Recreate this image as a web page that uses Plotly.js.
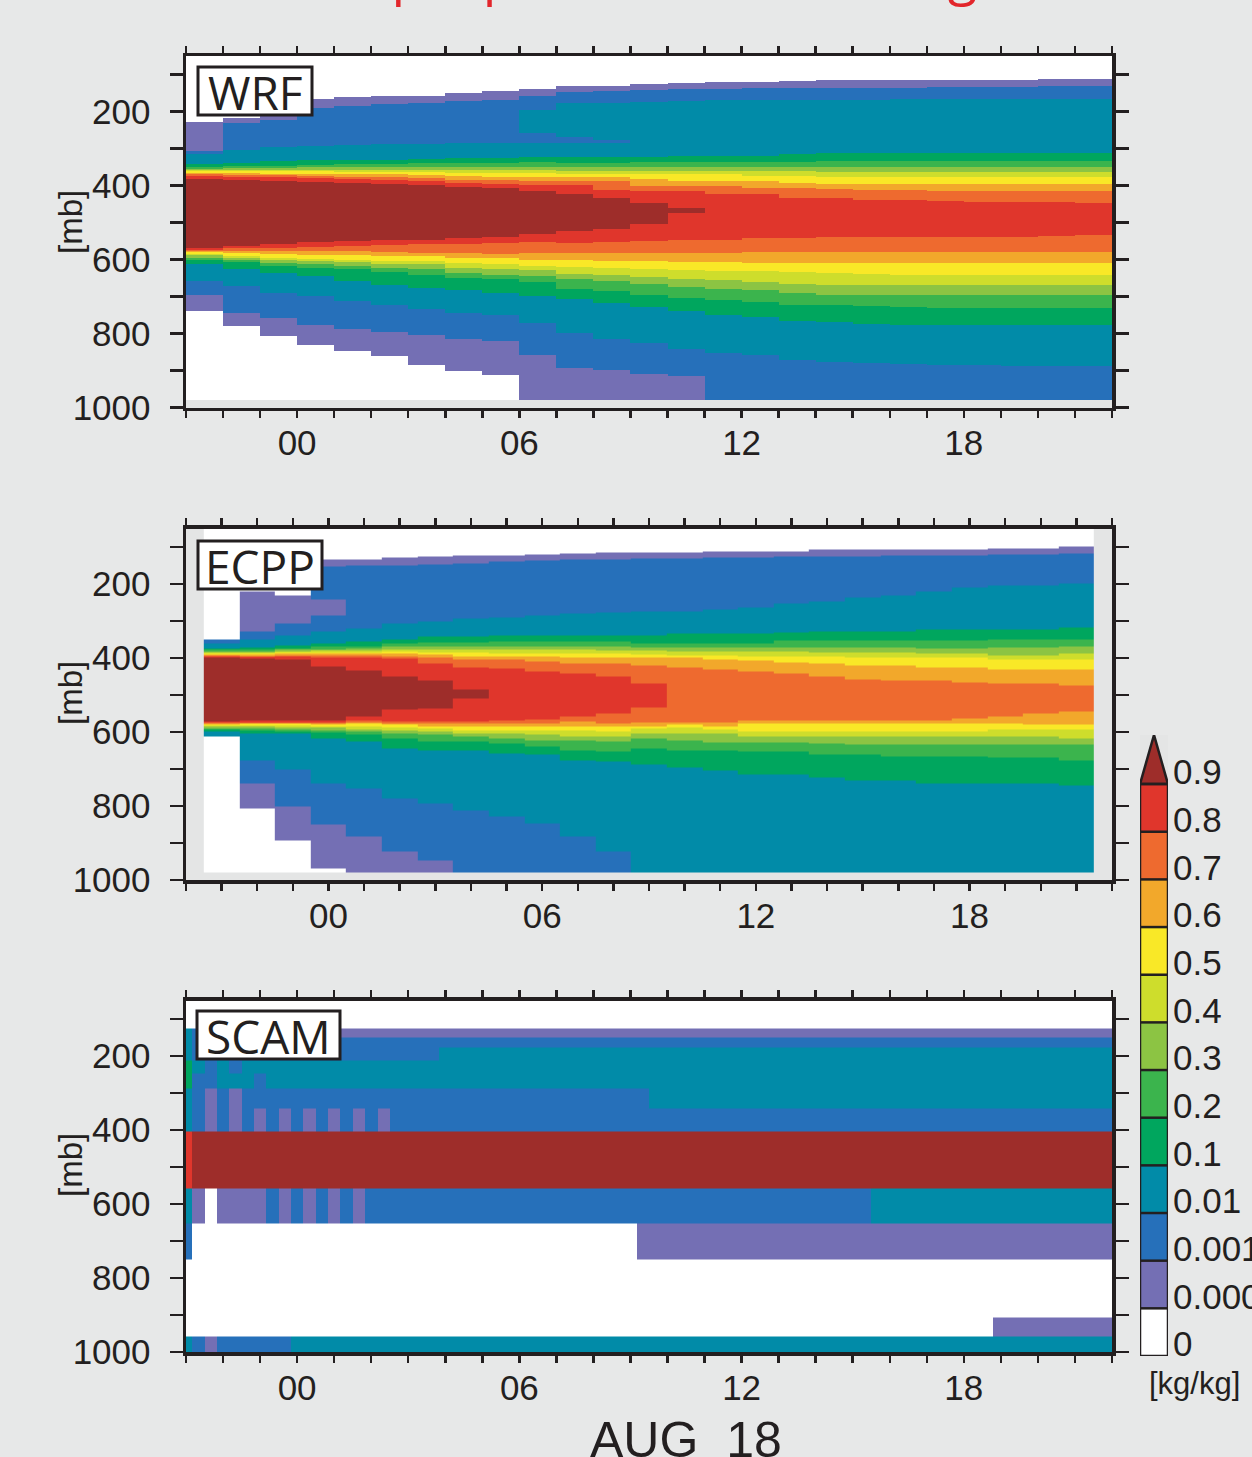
<!DOCTYPE html>
<html><head><meta charset="utf-8">
<script src="https://cdn.plot.ly/plotly-3.0.1.min.js"></script>
<style>html,body{margin:0;padding:0;background:#e7e8e8;} #chart{width:1252px;height:1457px;}</style>
</head><body><div id="chart"></div>
<script>
// ---------- colour classes (colorbar) ----------
const levelLabels = ['0','0.0001','0.001','0.01','0.1','0.2','0.3','0.4','0.5','0.6','0.7','0.8','0.9'];
const levelColors = ['#ffffff','#746fb4','#2670ba','#018ba8','#00a65e','#3bb44d','#8cc443',
                     '#cedd2c','#f9e827','#f2a82b','#ee6a2f','#e0362c','#9e2d2a'];
const panelNames = ['WRF','ECPP','SCAM'];
const hourTicks = [0, 6, 12, 18];
const hourTickText = ['00','06','12','18'];
const pressureTicks = [200, 400, 600, 800, 1000];
const timeLabel = 'AUG\u00a0 18';
const unitLabel = '[kg/kg]';
const pressureLabel = '[mb]';
const titleText = 'Mid-troposphere tracer mixing ratio';

// ---------- WRF: band edges [mb] per hourly column ----------
const wrfHours = [-2.5,-1.5,-0.5,0.5,1.5,2.5,3.5,4.5,5.5,6.5,7.5,8.5,9.5,10.5,11.5,12.5,13.5,14.5,15.5,16.5,17.5,18.5,19.5,20.5,21.5];
// upper edge of the region >= class k (k = 1..12)
const wrfTop = [
 [229,217,211,166,160,159,157,150,145,139,132,130,127,123,120,120,118,116,116,115,114,114,114,113,112],
 [307,231,222,190,186,181,177,172,168,159,148,145,142,139,139,137,136,136,136,136,134,134,133,132,132],
 [316,303,296,292,290,289,288,286,286,285,285,285,175,172,170,169,168,168,168,167,166,166,166,166,166],
 [343,339,334,332,332,330,328,326,325,323,323,323,323,321,319,319,315,313,312,312,312,312,312,312,312],
 [350,348,346,344,342,341,340,340,339,337,339,339,337,337,337,337,337,335,334,334,334,334,334,334,334],
 [355,353,352,351,350,350,350,350,350,350,350,350,350,350,350,350,350,350,350,350,350,350,350,350,350],
 [359,358,357,357,357,357,358,359,359,359,360,360,360,360,360,360,362,363,363,363,363,363,363,363,363],
 [361,361,361,362,363,363,364,366,366,367,368,368,370,370,370,373,373,377,377,377,377,377,377,377,377],
 [366,367,368,368,369,370,372,375,376,377,377,377,382,388,388,388,393,395,395,395,395,395,395,396,397],
 [370,371,372,374,376,377,379,384,386,388,388,388,402,402,402,406,406,409,411,413,415,415,415,415,415],
 [375,377,377,380,382,384,388,393,395,399,399,411,415,415,423,423,433,433,438,440,442,444,444,444,447],
 [382,386,388,391,393,395,398,404,407,415,424,434,447,460,null,null,null,null,null,null,null,null,null,null,null]
];
// lower edge of the region >= class k (k = 1..12)
const wrfBottom = [
 [740,780,807,830,848,861,884,902,911,980,980,980,980,980,980,980,980,980,980,980,980,980,980,980,980],
 [695,744,758,776,787,796,805,816,821,857,893,899,909,915,980,980,980,980,980,980,980,980,980,980,980],
 [659,672,690,699,713,722,733,744,751,771,798,814,827,841,852,859,872,876,879,883,885,886,887,887,887],
 [613,627,636,645,659,668,677,683,690,699,708,717,729,740,750,755,765,769,773,776,777,778,778,778,778],
 [602,607,618,622,627,633,641,650,652,661,679,685,695,704,710,715,722,723,726,729,731,731,731,731,731],
 [595,602,609,613,618,622,627,636,641,645,652,659,667,674,679,683,690,695,697,697,697,697,697,697,697],
 [589,595,600,604,607,611,613,622,625,629,638,642,647,652,656,660,665,668,670,670,670,670,670,670,670],
 [584,591,595,598,600,603,604,609,613,618,620,623,627,629,631,632,634,636,638,641,641,642,642,643,643],
 [579,582,586,587,589,590,591,595,597,600,600,603,605,607,608,609,609,609,609,609,609,609,609,609,609],
 [577,577,577,577,577,579,582,582,585,582,582,582,582,582,582,580,580,580,580,580,580,580,580,580,580],
 [573,570,568,566,564,561,559,557,555,553,555,552,549,546,546,541,541,540,540,540,540,540,540,537,535],
 [568,564,557,553,550,548,546,541,539,532,523,517,503,474,null,null,null,null,null,null,null,null,null,null,null]
];
// separated upper 0.01 tongue
const wrfTongueTop    = [null,null,null,null,null,null,null,null,null,195,178,176,null,null,null,null,null,null,null,null,null,null,null,null,null];
const wrfTongueBottom = [null,null,null,null,null,null,null,null,null,259,268,277,null,null,null,null,null,null,null,null,null,null,null,null,null];

// ---------- ECPP ----------
const ecppHours = [-3,-2,-1,0,1,2,3,4,5,6,7,8,9,10,11,12,13,14,15,16,17,18,19,20,21];
const ecppTop = [
 [351,219,230,135,133,128,126,124,122,119,117,115,114,114,113,111,111,108,108,108,106,106,104,103,99],
 [351,329,308,153,151,149,146,144,138,137,135,133,132,131,129,129,127,126,126,124,122,122,121,119,117],
 [360,350,338,329,320,308,302,293,290,286,281,277,275,273,268,263,254,248,236,230,219,210,204,203,198],
 [374,372,365,360,356,351,342,341,338,338,338,338,338,335,335,335,331,329,329,329,324,324,322,322,318],
 [378,378,374,369,368,362,359,359,356,356,356,356,360,360,360,360,353,353,353,353,353,353,350,350,351],
 [382,382,378,376,374,369,368,368,368,368,368,368,372,372,372,372,372,372,372,372,374,374,372,372,369],
 [385,385,382,380,380,377,377,378,378,378,378,380,381,383,383,383,383,385,385,385,387,387,392,392,389],
 [387,387,386,385,385,383,384,386,387,387,387,389,390,392,392,396,396,396,398,398,398,398,405,405,405],
 [390,391,389,389,389,389,390,395,395,396,398,398,399,399,405,408,413,416,421,421,426,426,430,430,430],
 [393,395,393,393,394,396,398,404,405,410,414,416,421,426,430,437,443,450,457,462,462,467,468,468,475],
 [395,397,396,398,398,401,414,425,428,437,443,450,468,null,null,null,null,null,null,null,null,null,null,null,null],
 [398,400,404,422,434,450,462,486,null,null,null,null,null,null,null,null,null,null,null,null,null,null,null,null,null]
];
const ecppBottom = [
 [611,806,894,968,980,980,980,980,980,980,980,980,980,980,980,980,980,980,980,980,980,980,980,980,980],
 [611,740,802,851,883,923,948,980,980,980,980,980,980,980,980,980,980,980,980,980,980,980,980,980,980],
 [611,676,701,739,752,779,793,811,829,847,883,923,980,980,980,980,980,980,980,980,980,980,980,980,980],
 [599,604,605,617,626,644,649,649,658,662,676,680,689,696,703,716,716,723,732,732,739,739,739,739,745],
 [594,595,598,602,608,617,626,626,631,640,649,653,644,649,649,653,653,662,662,667,667,667,668,668,676],
 [590,590,593,595,599,604,608,613,617,622,623,626,617,623,629,629,629,631,635,635,635,635,635,635,635],
 [586,586,587,589,593,595,599,604,604,608,611,613,604,605,604,611,611,611,611,611,611,611,611,611,617],
 [583,582,583,584,586,587,590,595,595,596,596,599,591,587,593,599,599,599,599,599,599,599,593,593,593],
 [579,578,578,579,577,581,584,584,586,586,586,586,586,581,586,578,578,578,578,578,578,578,578,581,581],
 [577,576,576,576,574,577,578,578,577,577,572,577,575,575,575,570,570,570,570,570,570,563,557,551,545],
 [575,573,573,573,570,572,572,572,568,566,559,550,534,null,null,null,null,null,null,null,null,null,null,null,null],
 [572,570,570,570,557,540,536,509,null,null,null,null,null,null,null,null,null,null,null,null,null,null,null,null,null]
];
const ecppPocketTop    = [null,null,null,243,null,null,null,null,null,null,null,null,null,null,null,null,null,null,null,null,null,null,null,null,null];
const ecppPocketBottom = [null,null,null,286,null,null,null,null,null,null,null,null,null,null,null,null,null,null,null,null,null,null,null,null,null];

// ---------- SCAM: model layers x time steps (class index) ----------
const scamTimeEdges = [-3,-2.83,-2.5,-2.17,-1.83,-1.5,-1.17,-0.83,-0.5,-0.17,0.17,0.5,0.83,1.17,1.5,1.83,2.17,2.5,3.83,9.17,9.5,15.5,18.8,22];
const scamPressureEdges = [50,127,149,178,211,246,289,343,403,559,654,749,908,959,1000];
const scamClasses = [
 [0,0,0,0,0,0,0,0,0,0,0,0,0,0,0,0,0,0,0,0,0,0,0],
 [3,2,1,1,1,1,1,1,1,1,1,1,1,1,1,1,1,1,1,1,1,1,1],
 [3,2,2,2,2,2,2,2,2,2,2,2,2,2,2,2,2,2,2,2,2,2,2],
 [3,2,2,2,2,2,2,2,2,2,2,2,2,2,2,2,2,2,3,3,3,3,3],
 [4,3,2,3,2,3,3,3,3,3,3,3,3,3,3,3,3,3,3,3,3,3,3],
 [4,2,2,3,3,3,2,3,3,3,3,3,3,3,3,3,3,3,3,3,3,3,3],
 [3,2,1,2,1,2,2,2,2,2,2,2,2,2,2,2,2,2,2,2,3,3,3],
 [3,2,1,2,1,2,1,2,1,2,1,2,1,2,1,2,1,2,2,2,2,2,2],
 [11,12,12,12,12,12,12,12,12,12,12,12,12,12,12,12,12,12,12,12,12,12,12],
 [3,1,0,1,1,1,1,2,1,2,1,2,1,2,1,2,2,2,2,2,2,3,3],
 [2,0,0,0,0,0,0,0,0,0,0,0,0,0,0,0,0,0,0,1,1,1,1],
 [0,0,0,0,0,0,0,0,0,0,0,0,0,0,0,0,0,0,0,0,0,0,0],
 [0,0,0,0,0,0,0,0,0,0,0,0,0,0,0,0,0,0,0,0,0,0,1],
 [3,2,1,2,2,2,2,2,2,3,3,3,3,3,3,3,3,3,3,3,3,3,3]
];

// ---------- build class fields from band edges ----------
function buildField(tops, bottoms, patches, pTop, pBottom) {
  const ncol = tops[0].length;
  const set = new Set([pTop, pBottom]);
  const addAll = a => a.forEach(v => { if (v != null) set.add(v); });
  tops.forEach(addAll); bottoms.forEach(addAll);
  patches.forEach(pt => { addAll(pt.top); addAll(pt.bottom); });
  const edges = Array.from(set).filter(v => v >= pTop && v <= pBottom).sort((a, b) => a - b);
  const z = [];
  for (let i = 0; i < edges.length - 1; i++) {
    const mid = (edges[i] + edges[i + 1]) / 2;
    const row = [];
    for (let c = 0; c < ncol; c++) {
      let lev = 0;
      for (let k = tops.length; k >= 1; k--) {
        const t = tops[k - 1][c], b = bottoms[k - 1][c];
        if (t != null && b != null && mid >= t && mid < b) { lev = k; break; }
      }
      patches.forEach(pt => {
        const t = pt.top[c], b = pt.bottom[c];
        if (t != null && b != null && mid >= t && mid < b) lev = pt.level;
      });
      row.push(lev);
    }
    z.push(row);
  }
  return { edges, z };
}
const wrfField = buildField(wrfTop, wrfBottom, [{top: wrfTongueTop, bottom: wrfTongueBottom, level: 3}], 50, 980);
const ecppField = buildField(ecppTop, ecppBottom, [{top: ecppPocketTop, bottom: ecppPocketBottom, level: 1}], 50, 980);

const nLev = levelColors.length;
const colorscale = [];
levelColors.forEach((c, k) => { colorscale.push([k / nLev, c]); colorscale.push([(k + 1) / nLev, c]); });

const ink = '#231f20';
const W = 1252, H = 1457;
const px = v => v / W, py = v => 1 - v / H;

const common = {type: 'heatmap', colorscale: colorscale, zmin: -0.5, zmax: nLev - 0.5, showscale: false, hoverinfo: 'skip', zsmooth: false};
const traces = [
  Object.assign({}, common, {x: wrfHours, y: wrfField.edges, z: wrfField.z, xaxis: 'x', yaxis: 'y'}),
  Object.assign({}, common, {x: ecppHours, y: ecppField.edges, z: ecppField.z, xaxis: 'x2', yaxis: 'y2'}),
  Object.assign({}, common, {x: scamTimeEdges, y: scamPressureEdges, z: scamClasses, xaxis: 'x3', yaxis: 'y3'})
];
// colorbar boxes
const cbEdges = levelLabels.map((_, i) => i);
const cbZ = levelColors.slice(0, nLev - 1).map((_, k) => [k]);
traces.push(Object.assign({}, common, {x: [0], y: cbEdges, z: cbZ, xaxis: 'x7', yaxis: 'y7'}));
traces.push({type: 'scatter', mode: 'lines', x: [-0.5, 0, 0.5, -0.5], y: [nLev - 1, nLev + 0.03, nLev - 1, nLev - 1],
  fill: 'toself', fillcolor: levelColors[nLev - 1], line: {color: ink, width: 2.5}, xaxis: 'x7', yaxis: 'y7', hoverinfo: 'skip', showlegend: false});

const tickFont = {family: 'Liberation Sans, Arial, sans-serif', size: 35, color: ink};
const xDom = [px(186), px(1112)];
function xAx(range, anchor) {
  return {domain: xDom, range: range, anchor: anchor, tickmode: 'array', tickvals: hourTicks, ticktext: hourTickText,
    ticks: 'outside', ticklen: 7, tickwidth: 2.5, tickcolor: ink,
    minor: {tickmode: 'linear', tick0: 0, dtick: 1, ticks: 'outside', ticklen: 7, tickwidth: 2.5, tickcolor: ink, showgrid: false},
    showline: true, linewidth: 3.5, linecolor: ink, mirror: 'ticks', showgrid: false, zeroline: false,
    tickfont: tickFont, ticklabelstandoff: -5, fixedrange: true};
}
function xLong(range, over, anchor) {
  return {overlaying: over, anchor: anchor, range: range, tickmode: 'array', tickvals: [0], ticks: 'outside', ticklen: 15,
    tickwidth: 2.5, tickcolor: ink, showline: false, mirror: 'ticks', showticklabels: false, showgrid: false, zeroline: false, fixedrange: true};
}
function yAx(top, bottom, anchor) {
  return {domain: [py(bottom), py(top)], range: [1000, 50], anchor: anchor, tickmode: 'array', tickvals: pressureTicks,
    ticktext: pressureTicks.map(String), ticks: 'outside', ticklen: 13, tickwidth: 2.5, tickcolor: ink,
    minor: {tickmode: 'linear', tick0: 100, dtick: 100, ticks: 'outside', ticklen: 13, tickwidth: 2.5, tickcolor: ink, showgrid: false},
    showline: true, linewidth: 3.5, linecolor: ink, mirror: 'ticks', showgrid: false, zeroline: false,
    tickfont: tickFont, ticklabelstandoff: 12, fixedrange: true};
}
const panelPix = [[56, 407.5], [528.5, 880], [1000.5, 1352]];
const boxPix = [[198, 67, 312, 115], [198, 541, 322, 589], [197, 1011, 340, 1059]];
const mbY = [222, 693, 1165];

const shapes = [];
const annotations = [];
panelNames.forEach((name, i) => {
  const b = boxPix[i];
  shapes.push({type: 'rect', xref: 'paper', yref: 'paper', x0: px(b[0]), x1: px(b[2]), y0: py(b[3]), y1: py(b[1]),
    fillcolor: '#ffffff', line: {color: ink, width: 3}, layer: 'above'});
  annotations.push({xref: 'paper', yref: 'paper', x: px((b[0] + b[2]) / 2), y: py((b[1] + b[3]) / 2 + 1), text: name,
    showarrow: false, xanchor: 'center', yanchor: 'middle', font: {family: 'Open Sans, Noto Sans, sans-serif', size: 46, color: ink}});
  annotations.push({xref: 'paper', yref: 'paper', x: px(70), y: py(mbY[i]), text: pressureLabel, textangle: -90,
    showarrow: false, xanchor: 'center', yanchor: 'middle', font: {family: 'Liberation Sans, Arial, sans-serif', size: 33, color: ink}});
});
// colorbar outline & separators
shapes.push({type: 'rect', xref: 'x7', yref: 'y7', x0: -0.5, x1: 0.5, y0: 0, y1: nLev - 1, line: {color: ink, width: 2.5}, fillcolor: 'rgba(0,0,0,0)'});
cbEdges.slice(1, nLev - 1).forEach(k => {
  shapes.push({type: 'line', xref: 'x7', yref: 'y7', x0: -0.5, x1: 0.5, y0: k, y1: k, line: {color: ink, width: 2.5}});
});
annotations.push({xref: 'paper', yref: 'paper', x: px(1194), y: py(1383), text: unitLabel, showarrow: false,
  xanchor: 'center', yanchor: 'middle', font: {family: 'Liberation Sans, Arial, sans-serif', size: 31, color: ink}});
annotations.push({xref: 'paper', yref: 'paper', x: px(686), y: py(1410), text: timeLabel, showarrow: false,
  xanchor: 'center', yanchor: 'top', font: {family: 'Liberation Sans, Arial, sans-serif', size: 50, color: ink}});
annotations.push({xref: 'paper', yref: 'paper', x: px(204), y: py(11), text: titleText, showarrow: false,
  xanchor: 'left', yanchor: 'bottom', borderpad: 0, font: {family: 'Open Sans, sans-serif', size: 54, color: '#e2262b'}});

const layout = {
  width: W, height: H, margin: {l: 0, r: 0, t: 0, b: 0},
  paper_bgcolor: '#e7e8e8', plot_bgcolor: '#e4e5e5', showlegend: false,
  xaxis: xAx([-3, 22], 'y'), xaxis2: xAx([-4, 22], 'y2'), xaxis3: xAx([-3, 22], 'y3'),
  xaxis4: xLong([-3, 22], 'x', 'y'), xaxis5: xLong([-4, 22], 'x2', 'y2'), xaxis6: xLong([-3, 22], 'x3', 'y3'),
  yaxis: yAx(panelPix[0][0], panelPix[0][1], 'x'),
  yaxis2: yAx(panelPix[1][0], panelPix[1][1], 'x2'),
  yaxis3: yAx(panelPix[2][0], panelPix[2][1], 'x3'),
  xaxis7: {domain: [px(1140), px(1168)], range: [-0.5, 0.5], anchor: 'y7', visible: false, fixedrange: true},
  yaxis7: {domain: [py(1356), py(735)], range: [0, nLev + 0.03], anchor: 'x7', side: 'right', tickmode: 'array',
    tickvals: cbEdges, ticktext: levelLabels, ticks: '', showline: false, showgrid: false, zeroline: false,
    tickfont: {family: 'Liberation Sans, Arial, sans-serif', size: 35, color: ink}, ticklabelshift: -12, ticklabelstandoff: 4, fixedrange: true},
  shapes: shapes, annotations: annotations
};
Plotly.newPlot('chart', traces, layout, {displayModeBar: false, staticPlot: true});
</script></body></html>
